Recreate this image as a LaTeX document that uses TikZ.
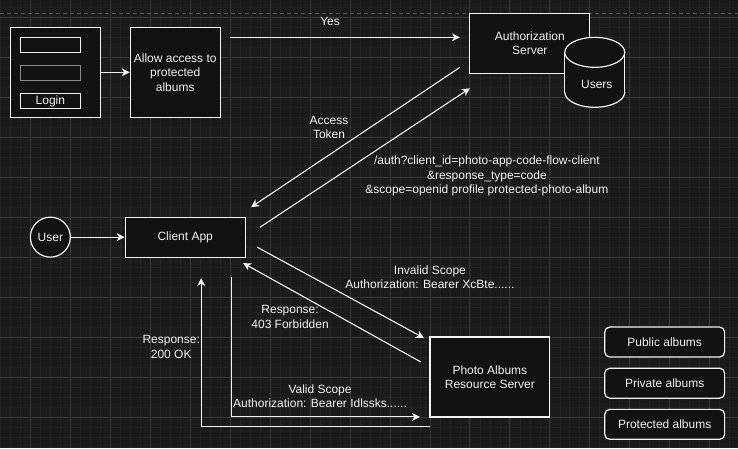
\documentclass[tikz,border=0pt]{standalone}
\usepackage{fontspec}
\setmainfont{Liberation Sans}
\usepackage{tikz}
\usetikzlibrary{arrows.meta, positioning}
\definecolor{canvasBg}{HTML}{1B1B1B}
\definecolor{gridMinor}{HTML}{232323}
\definecolor{gridMajor}{HTML}{363636}
\definecolor{boxFill}{HTML}{121212}
\definecolor{lineWhite}{HTML}{F2F2F2}
\definecolor{fieldGray}{HTML}{8A8A8A}
\definecolor{pageLine}{HTML}{565656}
\tikzset{
  box/.style={
    rectangle,
    draw=lineWhite, fill=boxFill,
    line width=1.2pt,
    align=center, text=lineWhite,
    inner sep=2pt,
    font=\fontsize{12}{14.5}\selectfont
  },
  albumbox/.style={
    box, rounded corners=5pt,
    minimum width=120pt, minimum height=30pt
  },
  fieldbox/.style={
    box, minimum width=60pt, minimum height=15pt,
    inner sep=0pt
  },
  userdot/.style={
    circle, draw=lineWhite, fill=boxFill,
    line width=1.2pt, minimum size=40pt, inner sep=0pt,
    text=lineWhite, font=\fontsize{12}{14.5}\selectfont
  },
  lbl/.style={
    align=center, text=lineWhite, inner sep=0pt,
    font=\fontsize{12}{14.5}\selectfont
  },
  flow/.style={
    -{Stealth[length=8pt, width=8pt, inset=2.5pt]},
    line width=1.1pt, color=lineWhite
  }
}

\begin{document}
\begin{tikzpicture}[x=1pt, y=-1pt, node distance=10pt]

  % canvas and grid
  \fill[canvasBg] (0,0) rectangle (738,448);
  \foreach \gx in {0,10,...,730} \draw[gridMinor, line width=0.6pt] (\gx,0) -- (\gx,448);
  \foreach \gy in {7,17,...,447} \draw[gridMinor, line width=0.6pt] (0,\gy) -- (738,\gy);
  \foreach \gx in {30,70,...,710} \draw[gridMajor, line width=0.8pt] (\gx,0) -- (\gx,448);
  \foreach \gy in {17,57,...,417} \draw[gridMajor, line width=0.8pt] (0,\gy) -- (738,\gy);
  \draw[pageLine, line width=0.8pt, dash pattern=on 4pt off 3pt] (0,13) -- (738,13);

  % login form
  \node[box, minimum width=90pt, minimum height=90pt] (login) at (55,72) {};
  \node[fieldbox] (field1) at (50,44.5) {};
  \node[fieldbox, draw=fieldGray, below=12pt of field1] (field2) {};
  \node[fieldbox, below=12pt of field2] (loginbtn) {Login};

  \node[box, minimum width=90pt, minimum height=90pt] (allow) at (175,72)
    {Allow access to\\protected\\albums};

  \node[box, minimum width=120pt, minimum height=60pt] (authz) at (530,43)
    {Authorization\\Server};

  % users store
  \fill[boxFill] (565,52) rectangle (625,92);
  \fill[boxFill] (595,92) ellipse (30 and 15);
  \fill[boxFill] (595,52) ellipse (30 and 15);
  \draw[lineWhite, line width=1.2pt] (565,52) -- (565,92);
  \draw[lineWhite, line width=1.2pt] (625,52) -- (625,92);
  \draw[lineWhite, line width=1.2pt] (595,52) ellipse (30 and 15);
  \begin{scope}
    \clip (560,92) rectangle (630,112);
    \draw[lineWhite, line width=1.2pt] (595,92) ellipse (30 and 15);
  \end{scope}
  \node[lbl] (users) at (597,84) {Users};

  \node[userdot] (user) at (50,237) {User};
  \node[box, minimum width=120pt, minimum height=40pt] (client) at (185,237) {Client App};

  \node[box, minimum width=120pt, minimum height=80pt] (photos) at (490,377)
    {Photo Albums\\Resource Server};

  \node[albumbox] (public) at (665,342) {Public albums};
  \node[albumbox, below=of public] (private) {Private albums};
  \node[albumbox, below=of private] (protected) {Protected albums};

  % free ends of the connectors
  \coordinate (yesA) at (230,37);
  \coordinate (yesB) at (460,37);
  \coordinate (tokA) at (460,67);
  \coordinate (tokB) at (251,207);
  \coordinate (reqA) at (260,227);
  \coordinate (reqB) at (470,88);
  \coordinate (badA) at (257,247);
  \coordinate (badB) at (424,338);
  \coordinate (denyA) at (421,362);
  \coordinate (denyB) at (243,263);
  \coordinate (okA) at (231,277);
  \coordinate (okB) at (420,417);
  \coordinate (respA) at (430,427);
  \coordinate (respB) at (201,278);

  \draw[flow] (login) -- (allow);
  \draw[flow] (yesA) -- (yesB);
  \draw[flow] (tokA) -- (tokB);
  \draw[flow] (reqA) -- (reqB);
  \draw[flow] (user) -- (client);
  \draw[flow] (badA) -- (badB);
  \draw[flow] (denyA) -- (denyB);
  \draw[flow] (okA) |- (okB);
  \draw[flow] (respA) -| (respB);

  \node[lbl] (yeslbl) at (330,21) {Yes};
  \node[lbl] (toklbl) at (329,127) {Access\\Token};
  \node[lbl] (reqlbl) at (487,176)
    {/auth?client\_id=photo-app-code-flow-client\\\&response\_type=code\\\&scope=openid profile protected-photo-album};
  \node[lbl] (badlbl) at (430,277) {Invalid Scope\\Authorization: Bearer XcBte......};
  \node[lbl] (denylbl) at (290,317) {Response:\\403 Forbidden};
  \node[lbl] (resplbl) at (171,347) {Response:\\200 OK};
  \node[lbl] (oklbl) at (320,396) {Valid Scope\\Authorization: Bearer Idlssks......};

\end{tikzpicture}
\end{document}
